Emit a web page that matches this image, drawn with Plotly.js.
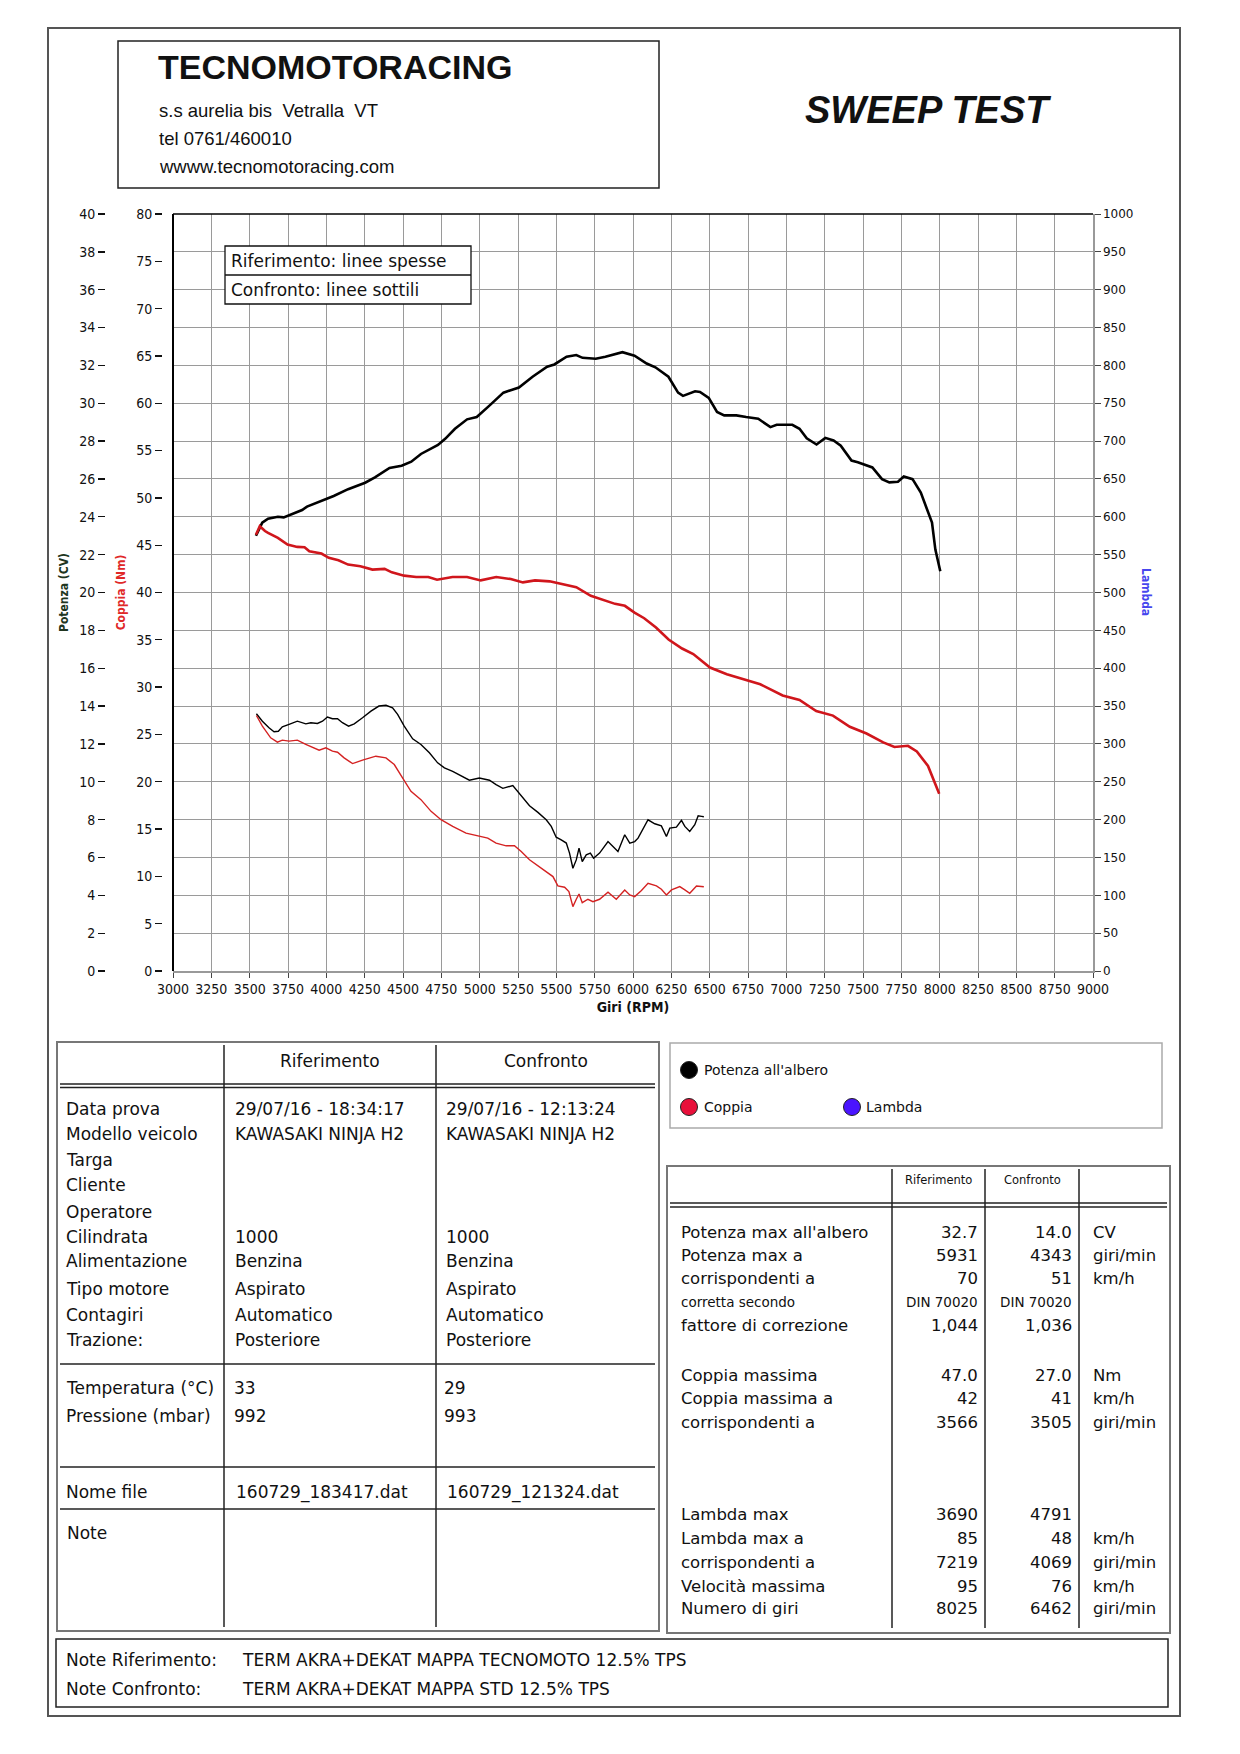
<!DOCTYPE html>
<html><head><meta charset="utf-8">
<script src="https://cdn.plot.ly/plotly-3.0.1.min.js"></script>
<style>html,body{margin:0;padding:0;background:#fff;}#chart{width:1240px;height:1754px;}</style>
</head><body><div id="chart"></div>
<script>
// ---------------- DATA ----------------
// Riferimento (thick lines)
const refPowerRpm = [3541,3582,3620,3684,3722,3779,3842,3874,3984,4048,4142,4253,4317,4412,4491,4554,4617,4728,4775,4839,4918,4981,5060,5155,5256,5345,5440,5487,5567,5630,5671,5757,5820,5899,5931,6010,6089,6146,6231,6294,6326,6405,6437,6494,6548,6595,6674,6738,6817,6896,6937,6991,7039,7086,7133,7197,7254,7308,7355,7425,7466,7561,7624,7672,7728,7766,7823,7877,7925,7950,7972,8004];
const refPowerCV  = [23.0,23.69,23.9,24.0,23.97,24.15,24.36,24.54,24.88,25.1,25.46,25.8,26.08,26.58,26.7,26.91,27.32,27.8,28.12,28.65,29.15,29.27,29.85,30.56,30.83,31.4,31.93,32.05,32.46,32.55,32.4,32.35,32.46,32.65,32.7,32.51,32.1,31.9,31.4,30.56,30.39,30.63,30.6,30.28,29.54,29.36,29.36,29.27,29.18,28.74,28.86,28.86,28.86,28.65,28.15,27.82,28.17,28.03,27.76,26.97,26.88,26.61,25.99,25.82,25.85,26.13,25.99,25.28,24.22,23.69,22.27,21.12];
const refTorqueRpm = [3541,3566,3600,3620,3684,3747,3810,3858,3889,3968,4016,4079,4142,4222,4301,4380,4427,4507,4586,4665,4722,4823,4918,5007,5108,5203,5282,5361,5456,5535,5630,5725,5804,5883,5947,6010,6073,6150,6232,6320,6393,6502,6612,6830,6976,7086,7195,7304,7414,7523,7632,7705,7793,7851,7924,7997];
const refTorqueNm  = [46.1,47.0,46.5,46.3,45.78,45.07,44.82,44.79,44.36,44.12,43.66,43.41,42.95,42.77,42.42,42.49,42.13,41.78,41.64,41.64,41.35,41.64,41.64,41.28,41.64,41.42,41.07,41.28,41.18,40.93,40.57,39.65,39.23,38.8,38.59,37.88,37.28,36.3,35.03,34.08,33.49,32.07,31.36,30.3,29.12,28.64,27.47,26.99,25.81,25.1,24.16,23.68,23.8,23.21,21.67,18.73];
// Confronto (thin lines)
const confPowerRpm = [3544,3583,3626,3659,3687,3713,3757,3811,3866,3899,3942,3975,4007,4040,4073,4105,4145,4182,4236,4291,4343,4389,4432,4465,4508,4563,4617,4672,4726,4770,4824,4879,4933,4998,5064,5107,5151,5216,5249,5282,5325,5380,5434,5467,5499,5532,5565,5586,5608,5630,5648,5669,5695,5722,5743,5782,5837,5902,5946,5979,6011,6033,6098,6142,6185,6218,6240,6283,6316,6338,6370,6403,6425,6447,6462];
const confPowerCV  = [13.59,13.2,12.85,12.64,12.67,12.9,13.03,13.2,13.06,13.12,13.08,13.2,13.42,13.33,13.33,13.12,12.94,13.06,13.38,13.73,14.0,14.04,13.91,13.56,12.94,12.27,11.97,11.53,11.0,10.73,10.55,10.29,10.08,10.2,10.08,9.85,9.65,9.8,9.49,9.14,8.73,8.38,7.99,7.64,7.07,6.93,6.76,6.23,5.43,5.87,6.49,5.78,6.14,6.23,5.96,6.23,6.84,6.31,7.2,6.76,6.84,7.02,7.99,7.78,7.67,7.11,7.55,7.6,7.96,7.64,7.37,7.73,8.2,8.17,8.15];
const confTorqueRpm = [3544,3583,3637,3681,3713,3757,3811,3866,3953,3997,4040,4073,4116,4171,4236,4323,4389,4443,4497,4552,4617,4683,4748,4824,4911,4988,5053,5107,5173,5227,5271,5325,5401,5478,5510,5554,5582,5608,5630,5648,5669,5706,5739,5782,5837,5891,5946,5979,6011,6055,6098,6153,6185,6218,6251,6305,6338,6370,6414,6447,6462];
const confTorqueNm  = [27.0,25.88,24.64,24.18,24.4,24.29,24.4,23.94,23.34,23.58,23.23,23.12,22.52,21.92,22.28,22.7,22.52,21.82,20.4,18.99,18.11,16.87,15.99,15.28,14.57,14.29,14.04,13.51,13.23,13.23,12.63,11.75,10.86,9.98,8.99,8.85,8.39,6.8,7.58,8.14,7.22,7.58,7.33,7.58,8.32,7.58,8.57,8.04,7.86,8.5,9.27,8.99,8.64,8.04,8.57,8.92,8.57,8.22,8.99,8.92,8.9];

// Texts
const company = ['TECNOMOTORACING','s.s aurelia bis\u00a0 Vetralla\u00a0 VT','tel 0761/460010','wwww.tecnomotoracing.com'];
const chartTitle = 'SWEEP TEST';
const lineLegend = ['Riferimento: linee spesse','Confronto: linee sottili'];
const colHeads = ['Riferimento','Confronto'];
const infoLabels = ['Data prova','Modello veicolo','Targa','Cliente','Operatore','Cilindrata','Alimentazione','Tipo motore','Contagiri','Trazione:'];
const infoRif  = ['29/07/16 - 18:34:17','KAWASAKI NINJA H2','','','','1000','Benzina','Aspirato','Automatico','Posteriore'];
const infoConf = ['29/07/16 - 12:13:24','KAWASAKI NINJA H2','','','','1000','Benzina','Aspirato','Automatico','Posteriore'];
const envLabels = ['Temperatura (°C)','Pressione (mbar)'];
const envRif = ['33','992'];
const envConf = ['29','993'];
const fileLabel = 'Nome file';
const fileRif = '160729_183417.dat';
const fileConf = '160729_121324.dat';
const noteLabel = 'Note';
const seriesNames = ["Potenza all'albero",'Coppia','Lambda'];
const statLabels1 = ["Potenza max all'albero",'Potenza max a','corrispondenti a','corretta secondo','fattore di correzione'];
const statRif1  = ['32.7','5931','70','DIN 70020','1,044'];
const statConf1 = ['14.0','4343','51','DIN 70020','1,036'];
const statUnit1 = ['CV','giri/min','km/h','',''];
const statLabels2 = ['Coppia massima','Coppia massima a','corrispondenti a'];
const statRif2  = ['47.0','42','3566'];
const statConf2 = ['27.0','41','3505'];
const statUnit2 = ['Nm','km/h','giri/min'];
const statLabels3 = ['Lambda max','Lambda max a','corrispondenti a','Velocità massima','Numero di giri'];
const statRif3  = ['3690','85','7219','95','8025'];
const statConf3 = ['4791','48','4069','76','6462'];
const statUnit3 = ['','km/h','giri/min','km/h','giri/min'];
const noteRows = [['Note Riferimento:','TERM AKRA+DEKAT MAPPA TECNOMOTO 12.5% TPS'],['Note Confronto:','TERM AKRA+DEKAT MAPPA STD 12.5% TPS']];

// ---------------- LAYOUT HELPERS ----------------
const ML = 60, MR = 100, MT = 214, MB = 783, WW = 1240, HH = 1754;
const PW = WW - ML - MR, PH = HH - MT - MB;
const PX = x => (x - ML) / PW;
const PY = y => (HH - MB - y) / PH;
const sans = "'DejaVu Sans', Verdana, sans-serif";
const arial = "'Liberation Sans', Arial, sans-serif";
const narrow = "'Liberation Sans Narrow', 'Arial Narrow', 'DejaVu Sans Condensed', 'Liberation Sans', Arial, sans-serif";

const shapes = [];
function rect(x0,y0,x1,y1,color,width,fill){shapes.push({type:'rect',xref:'paper',yref:'paper',x0:PX(x0),x1:PX(x1),y0:PY(y0),y1:PY(y1),line:{color:color,width:width},fillcolor:fill||'rgba(0,0,0,0)',layer:'above'});}
function hline(x0,x1,y,color,width){shapes.push({type:'line',xref:'paper',yref:'paper',x0:PX(x0),x1:PX(x1),y0:PY(y),y1:PY(y),line:{color:color,width:width},layer:'above'});}
function vline(x,y0,y1,color,width){shapes.push({type:'line',xref:'paper',yref:'paper',x0:PX(x),x1:PX(x),y0:PY(y0),y1:PY(y1),line:{color:color,width:width},layer:'above'});}
function circ(cx,cy,r,fill){shapes.push({type:'circle',xref:'paper',yref:'paper',x0:PX(cx-r),x1:PX(cx+r),y0:PY(cy+r),y1:PY(cy-r),line:{color:'#222',width:1},fillcolor:fill,layer:'above'});}

const anns = [];
function T(text,x,y,size,o){o=o||{};anns.push({text:text,x:PX(x),y:PY(y),xref:'paper',yref:'paper',showarrow:false,xanchor:o.xa||'left',yanchor:'middle',textangle:o.angle||0,
  font:{family:o.family||sans,size:size,color:o.color||'#111',weight:o.weight||'normal',style:o.style||'normal'}});}

// page + header
rect(48,28,1180,1716,'#555',2);
rect(118,41,659,188,'#222',1.5);
T(company[0],156,67,34,{family:arial,weight:'bold'});
T(company[1],157,110,18.5,{family:arial});
T(company[2],157,138,18.5,{family:arial});
T(company[3],157,166,18.5,{family:arial});
T(chartTitle,928,110,38,{family:arial,weight:'bold',style:'italic',xa:'center'});

// plot borders (top/left black)
shapes.push({type:'line',xref:'x domain',yref:'y domain',x0:0,x1:1,y0:1,y1:1,line:{color:'#000',width:1.5},layer:'above'});
shapes.push({type:'line',xref:'x domain',yref:'y domain',x0:0,x1:0,y0:0,y1:1,line:{color:'#000',width:2},layer:'above'});

// line-style legend box
rect(225,246,471,304,'#111',1.3,'#fff');
hline(225,471,275,'#111',1.3);
T(lineLegend[0],229,261,17);
T(lineLegend[1],229,290,17);

// Lambda axis label
T('Lambda',1146,592,12,{family:narrow,weight:'bold',color:'#4646ee',angle:90,xa:'center'});

// left info table
rect(57,1042,659,1631,'#777',2);
vline(224,1045,1627,'#222',1.5);
vline(436,1045,1627,'#222',1.5);
hline(60,655,1084,'#222',1.5);
hline(60,655,1087.5,'#222',1.5);
hline(60,655,1364,'#222',1.5);
hline(60,655,1467,'#222',1.5);
hline(60,655,1509,'#222',1.5);
T(colHeads[0],330,1061,17,{xa:'center'});
T(colHeads[1],546,1061,17,{xa:'center'});
const infoY = [1109,1134,1160,1185,1212,1237,1261,1289,1315,1340];
infoLabels.forEach((s,i)=>{T(s,64,infoY[i],17); if(infoRif[i])T(infoRif[i],233,infoY[i],17); if(infoConf[i])T(infoConf[i],444,infoY[i],17);});
const envY = [1388,1416];
envLabels.forEach((s,i)=>{T(s,64,envY[i],17);T(envRif[i],232,envY[i],17);T(envConf[i],442,envY[i],17);});
T(fileLabel,64,1492,17); T(fileRif,234,1492,17); T(fileConf,445,1492,17);
T(noteLabel,65,1533,17);

// series legend box
rect(670,1043,1162,1128,'#aaa',1.5);
circ(689,1070,8.5,'#000'); T(seriesNames[0],702,1070,14);
circ(689,1107,8.5,'#e8103a'); T(seriesNames[1],702,1107,14);
circ(852,1107,8.5,'#4a14ff'); T(seriesNames[2],864,1107,14);

// stats table
rect(667,1166,1170,1633,'#777',2);
[892,985,1079].forEach(x=>vline(x,1169,1628,'#222',1.5));
hline(670,1167,1203,'#222',1.5);
hline(670,1167,1207,'#222',1.5);
T(colHeads[0],938,1180,11.5,{xa:'center'});
T(colHeads[1],1032,1180,11.5,{xa:'center'});
function statGroup(labels,rif,conf,unit,ys){labels.forEach((s,i)=>{const sz=(s==='corretta secondo')?13.5:16.5;
  T(s,679,ys[i],sz); T(rif[i],980,ys[i],rif[i].indexOf('DIN')>=0?13.5:16.5,{xa:'right'}); T(conf[i],1074,ys[i],conf[i].indexOf('DIN')>=0?13.5:16.5,{xa:'right'}); if(unit[i])T(unit[i],1091,ys[i],16.5);});}
statGroup(statLabels1,statRif1,statConf1,statUnit1,[1232,1255,1278,1302,1325]);
statGroup(statLabels2,statRif2,statConf2,statUnit2,[1375,1398,1422]);
statGroup(statLabels3,statRif3,statConf3,statUnit3,[1514,1538,1562,1586,1608]);

// notes box
rect(56,1639,1168,1707,'#222',1.5);
T(noteRows[0][0],64,1660,17); T(noteRows[0][1],240,1660,17);
T(noteRows[1][0],64,1689,17); T(noteRows[1][1],240,1689,17);

// ---------------- TRACES ----------------
const traces = [
  {x:refPowerRpm,y:refPowerCV,xaxis:'x',yaxis:'y',mode:'lines',line:{color:'#000',width:2.6},name:'Potenza rif.'},
  {x:refTorqueRpm,y:refTorqueNm,xaxis:'x',yaxis:'y2',mode:'lines',line:{color:'#d0161c',width:2.6},name:'Coppia rif.'},
  {x:confPowerRpm,y:confPowerCV,xaxis:'x',yaxis:'y',mode:'lines',line:{color:'#000',width:1.4},name:'Potenza conf.'},
  {x:confTorqueRpm,y:confTorqueNm,xaxis:'x',yaxis:'y2',mode:'lines',line:{color:'#d42222',width:1.4},name:'Coppia conf.'},
  {x:[],y:[],xaxis:'x',yaxis:'y3',mode:'lines',line:{color:'#4a14ff'},name:'Lambda'}
];

const layout = {
  width:WW,height:HH,margin:{l:ML,r:MR,t:MT,b:MB,pad:0},
  paper_bgcolor:'#fff',plot_bgcolor:'#fff',showlegend:false,
  xaxis:{domain:[PX(173),PX(1093)],range:[3000,9000],tick0:3000,dtick:250,showgrid:true,gridcolor:'#9a9a9a',gridwidth:1,
    ticks:'outside',ticklen:5,tickcolor:'#444',showline:true,linecolor:'#999',linewidth:1.5,zeroline:false,
    tickfont:{family:narrow,size:14,color:'#111'},
    title:{text:'Giri (RPM)',font:{family:narrow,size:14,color:'#111',weight:'bold'},standoff:6}},
  yaxis:{range:[0,40],dtick:2,anchor:'free',position:PX(105),side:'left',ticks:'outside',ticklen:7,tickwidth:1.3,tickcolor:'#111',
    showgrid:false,zeroline:false,showline:false,tickfont:{family:narrow,size:14,color:'#111'},
    title:{text:'Potenza (CV)',font:{family:narrow,size:12,color:'#203520',weight:'bold'},standoff:6}},
  yaxis2:{range:[0,80],dtick:5,overlaying:'y',anchor:'free',position:PX(162),side:'left',ticks:'outside',ticklen:7,tickwidth:1.3,tickcolor:'#111',
    showgrid:false,zeroline:false,showline:false,tickfont:{family:narrow,size:14,color:'#111'},
    title:{text:'Coppia (Nm)',font:{family:narrow,size:12,color:'#e02828',weight:'bold'},standoff:6}},
  yaxis3:{range:[0,1000],dtick:50,overlaying:'y',anchor:'x',side:'right',ticks:'outside',ticklen:6,tickcolor:'#444',
    showgrid:true,gridcolor:'#9a9a9a',gridwidth:1,showline:true,linecolor:'#999',linewidth:1.5,zeroline:false,
    tickfont:{family:sans,size:12,color:'#111'}},
  shapes:shapes,annotations:anns
};
Plotly.newPlot('chart',traces,layout,{displayModeBar:false,staticPlot:true});
</script></body></html>
